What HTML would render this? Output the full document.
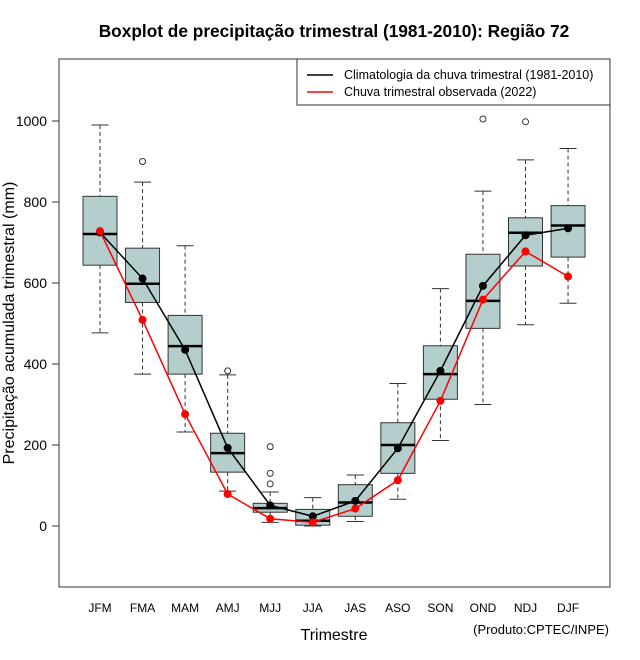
<!DOCTYPE html>
<html><head><meta charset="utf-8"><style>
body{margin:0;background:#fff}
svg{display:block;font-family:"Liberation Sans",sans-serif}
</style></head><body>
<svg id="c" width="640" height="660">
<text x="334" y="37" text-anchor="middle" font-size="17.3" font-weight="bold">Boxplot de precipitação trimestral (1981-2010): Região 72</text>
<rect x="59" y="59" width="551" height="528" fill="none" stroke="#333"/>
<g id="yax"></g>
<g id="xax"></g>
<g id="marks"></g>
<text transform="translate(14,323) rotate(-90)" text-anchor="middle" font-size="16">Precipitação acumulada trimestral (mm)</text>
<text x="334" y="640" text-anchor="middle" font-size="16">Trimestre</text>
<text x="609" y="634" text-anchor="end" font-size="13">(Produto:CPTEC/INPE)</text>
<g>
<rect x="297" y="59" width="313" height="46" fill="#fff" stroke="#333"/>
<line x1="307" y1="75" x2="333" y2="75" stroke="#000" stroke-width="1.5"/>
<text x="344" y="79" font-size="12.5">Climatologia da chuva trimestral (1981-2010)</text>
<line x1="307" y1="92" x2="333" y2="92" stroke="red" stroke-width="1.5"/>
<text x="344" y="96" font-size="12.5">Chuva trimestral observada (2022)</text>
</g>
</svg>
<script>
const categories=["JFM","FMA","MAM","AMJ","MJJ","JJA","JAS","ASO","SON","OND","NDJ","DJF"];
const whiskerLow=[477,375,232,86,9,0,11,66,211,300,497,550];
const q1=[644,552,375,133,34,2,24,130,313,488,642,664];
const median=[721,598,444,180,44,13,58,200,375,556,724,742];
const q3=[814,686,520,229,56,41,102,255,445,671,761,791];
const whiskerHigh=[990,849,692,373,84,70,126,352,586,827,904,932];
const outliers=[[],[900],[],[383],[196,130,104],[],[],[],[],[1005],[998],[]];
const climMean=[725,611,435,193,51,24,62,192,383,593,718,735];
const observed2022=[728,509,276,79,18,9,43,113,309,559,678,616];
const yTicks=[0,200,400,600,800,1000];

const NS="http://www.w3.org/2000/svg";
const y=v=>526-v*0.405;
const x=i=>100+i*42.55;
function mk(p,tag,at){const e=document.createElementNS(NS,tag);for(const k in at)e.setAttribute(k,at[k]);p.appendChild(e);return e;}
const yax=document.getElementById('yax'),xax=document.getElementById('xax'),g=document.getElementById('marks');
mk(yax,'line',{x1:59,x2:59,y1:y(0),y2:y(1000),stroke:'#333'});
yTicks.forEach(t=>{
 const l=mk(yax,'line',{x1:52,x2:59,y1:y(t),y2:y(t),stroke:'#333'});
 
 
 const tx=mk(yax,'text',{x:47,y:y(t)+5,'text-anchor':'end','font-size':14});
 tx.textContent=t;
 
 
});
categories.forEach((c,i)=>{
 const tx=mk(xax,'text',{x:x(i),y:612,'text-anchor':'middle','font-size':12});
 tx.textContent=c;
 
 
 const b=mk(g,'g',{});
 
 
 const cx=x(i);
 mk(b,'line',{x1:cx,x2:cx,y1:y(whiskerHigh[i]),y2:y(q3[i]),stroke:'#333','stroke-dasharray':'4,3'});
 mk(b,'line',{x1:cx,x2:cx,y1:y(q1[i]),y2:y(whiskerLow[i]),stroke:'#333','stroke-dasharray':'4,3'});
 mk(b,'line',{x1:cx-8.5,x2:cx+8.5,y1:y(whiskerHigh[i]),y2:y(whiskerHigh[i]),stroke:'#333'});
 mk(b,'line',{x1:cx-8.5,x2:cx+8.5,y1:y(whiskerLow[i]),y2:y(whiskerLow[i]),stroke:'#333'});
 mk(b,'rect',{x:cx-17,y:y(q3[i]),width:34,height:y(q1[i])-y(q3[i]),fill:'#b4cdcd',stroke:'#333'});
 mk(b,'line',{x1:cx-17,x2:cx+17,y1:y(median[i]),y2:y(median[i]),stroke:'#000','stroke-width':2.5});
 outliers[i].forEach(o=>mk(b,'circle',{cx:cx,cy:y(o),r:3,fill:'none',stroke:'#333'}));
});
function series(vals,col,name){
 const pl=mk(g,'polyline',{points:vals.map((v,i)=>x(i)+','+y(v)).join(' '),fill:'none',stroke:col,'stroke-width':1.5});
 
 
 vals.forEach((v,i)=>{
  const p=mk(g,'circle',{cx:x(i),cy:y(v),r:4,fill:col});
  
  
 });
}
series(climMean,'#000','climatology');
series(observed2022,'red','observed');
</script>
</body></html>
